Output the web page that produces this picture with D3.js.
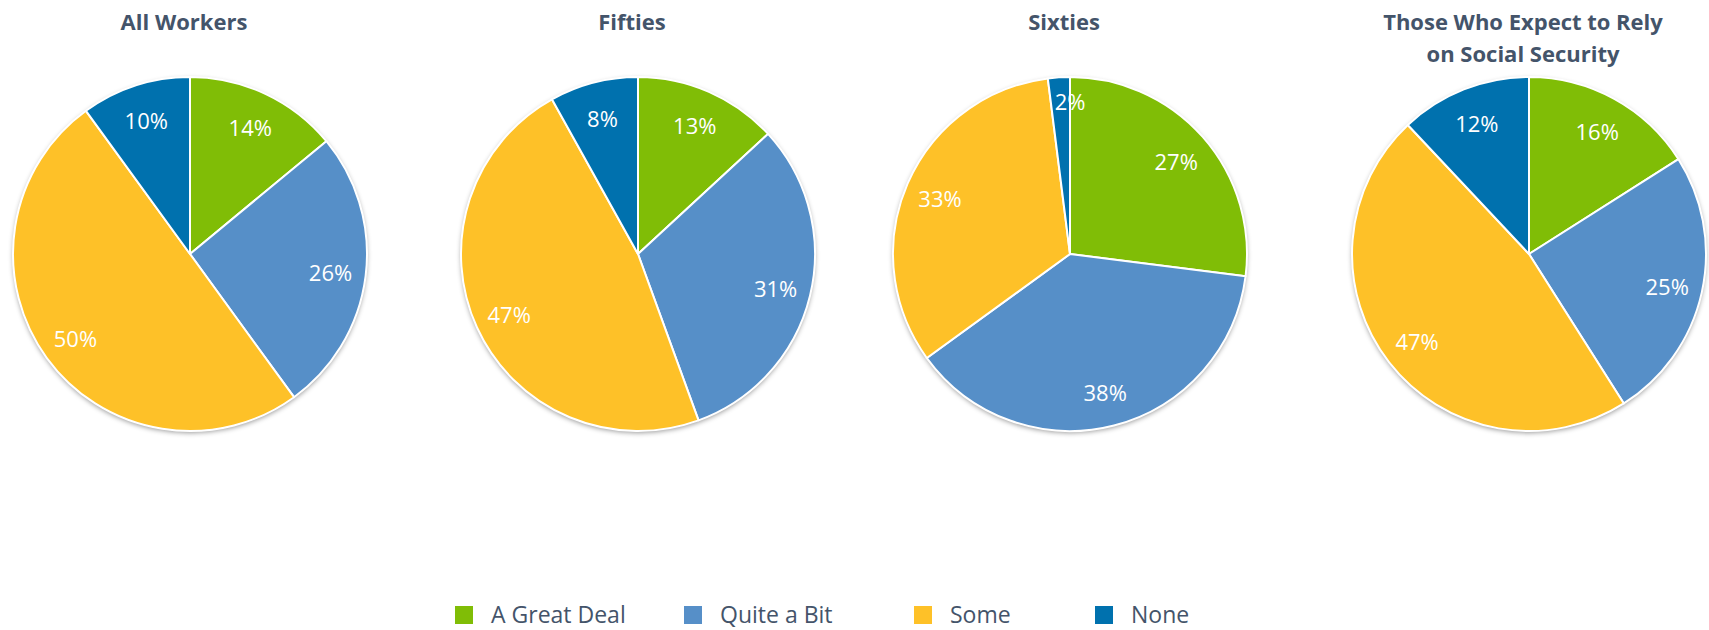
<!DOCTYPE html>
<html>
<head>
<meta charset="utf-8">
<script src="https://cdn.jsdelivr.net/npm/d3@7"></script>
<style>
  body { margin: 0; background: #fff; }
  text { font-family: "Open Sans", sans-serif; }
</style>
</head>
<body>
<script>
const categories = ['A Great Deal', 'Quite a Bit', 'Some', 'None'];
const colors = ['#80bd06', '#568fc8', '#fec128', '#0071ae'];

const groups = [
  ['All Workers'],
  ['Fifties'],
  ['Sixties'],
  ['Those Who Expect to Rely', 'on Social Security']
];

const allWorkers = [14, 26, 50, 10];
const fifties = [13, 31, 47, 8];
const sixties = [27, 38, 33, 2];
const relyOnSS = [16, 25, 47, 12];
const seriesValues = [allWorkers, fifties, sixties, relyOnSS];

const width = 1709;
const height = 630;
const radius = 177;
const centersX = [190, 638, 1070, 1529];
const centerY = 254;

const svg = d3.select('body')
  .append('svg')
  .attr('width', width)
  .attr('height', height);

const defs = svg.append('defs');
defs.append('filter')
  .attr('id', 'shadow')
  .attr('x', '-20%').attr('y', '-20%')
  .attr('width', '140%').attr('height', '140%')
  .append('feDropShadow')
  .attr('dx', 0).attr('dy', 2)
  .attr('stdDeviation', 2.5)
  .attr('flood-color', '#000')
  .attr('flood-opacity', 0.4);

const color = d3.scaleOrdinal().domain(categories).range(colors);

const pie = d3.pie().sort(null).value((d) => d.value);
const arc = d3.arc().innerRadius(0).outerRadius(radius);

seriesValues.forEach((vals, i) => {
  const data = categories.map((c, j) => ({ cat: c, value: vals[j] }));
  const total = d3.sum(vals);
  const g = svg.append('g')
    .attr('transform', `translate(${centersX[i]}, ${centerY})`);

  // shadow behind the pie
  g.append('circle')
    .attr('r', radius)
    .attr('fill', '#fff')
    .attr('filter', 'url(#shadow)');

  const arcs = pie(data);

  g.selectAll('path')
    .data(arcs)
    .join('path')
    .attr('d', arc)
    .attr('fill', (d) => color(d.data.cat))
    .attr('stroke', '#fff')
    .attr('stroke-width', 2)
    .attr('stroke-linejoin', 'round');

  // labels; tiny slices get pushed out and onto the slice edge (like excel best fit)
  g.selectAll('text.lbl')
    .data(arcs)
    .join('text')
    .attr('class', 'lbl')
    .attr('transform', (d) => {
      const small = d.data.value / total < 0.05;
      const r = small ? radius * 0.87 : radius * 0.8;
      const a = small ? d.endAngle : (d.startAngle + d.endAngle) / 2;
      return `translate(${Math.sin(a) * r}, ${-Math.cos(a) * r + 2})`;
    })
    .attr('text-anchor', 'middle')
    .attr('dy', '0.35em')
    .attr('fill', '#fff')
    .style('font-size', '22px')
    .text((d) => d.data.value + '%');

  // title
  const lines = groups[i];
  const t = svg.append('text')
    .attr('x', centersX[i] - 6)
    .attr('y', 30)
    .attr('text-anchor', 'middle')
    .attr('fill', '#44546a')
    .style('font-size', '22px')
    .style('font-weight', 'bold');
  lines.forEach((l, k) => {
    t.append('tspan')
      .attr('x', centersX[i] - 6)
      .attr('dy', k === 0 ? 0 : 32)
      .text(l);
  });
});

// legend
const legendOffsets = [0, 229, 459, 640];
const legend = svg.append('g')
  .attr('transform', 'translate(455, 606)');

const item = legend.selectAll('g')
  .data(categories)
  .join('g')
  .attr('transform', (d, i) => `translate(${legendOffsets[i]}, 0)`);

item.append('rect')
  .attr('width', 18)
  .attr('height', 18)
  .attr('fill', (d) => color(d));

item.append('text')
  .attr('x', 36)
  .attr('y', 17)
  .attr('fill', '#44546a')
  .style('font-size', '23px')
  .text((d) => d);
</script>
</body>
</html>
